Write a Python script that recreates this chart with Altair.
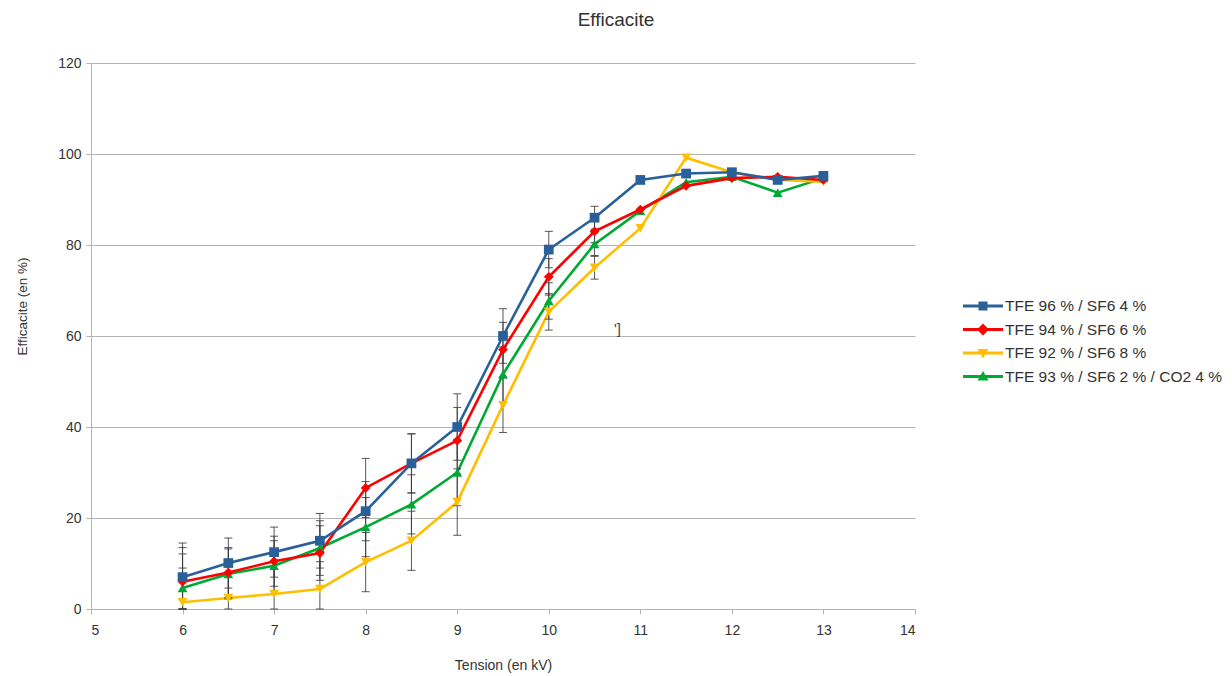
import altair as alt
import pandas as pd

# ---------------- data ----------------
tension = [6, 6.5, 7, 7.5, 8, 8.5, 9, 9.5, 10, 10.5, 11, 11.5, 12, 12.5, 13]
series_names = [
    "TFE 96 % / SF6 4 %",
    "TFE 94 % / SF6 6 %",
    "TFE 92 % / SF6 8 %",
    "TFE 93 % / SF6 2 % / CO2 4 %",
]
eff_96 = [7.0, 10.1, 12.5, 15.0, 21.5, 32.0, 40.0, 60.0, 79.0, 86.0, 94.3, 95.7, 96.0, 94.3, 95.2]
eff_94 = [6.0, 8.0, 10.5, 12.3, 26.6, 32.0, 37.0, 57.0, 73.0, 83.0, 87.8, 93.0, 94.7, 95.0, 94.3]
eff_92 = [1.5, 2.4, 3.3, 4.4, 10.3, 15.0, 23.5, 44.8, 65.3, 75.0, 83.7, 99.2, 96.0, 94.3, 93.9]
eff_93 = [4.6, 7.7, 9.5, 13.4, 18.0, 23.0, 30.0, 51.6, 67.7, 80.2, 87.5, 93.8, 95.0, 91.5, 94.7]
err = [7.5, 5.5, 5.5, 6.0, 6.5, 6.5, 7.3, 6.0, 4.0, 2.5, 0, 0, 0, 0, 0]

colors = ["#2a6099", "#ff0000", "#ffbf00", "#00a933"]
marker_shapes = ["square", "diamond", "triangle-down", "triangle-up"]
legend_paths = [
    "M-2,-0.15H2V0.15H-2Z M-0.45,-0.45H0.45V0.45H-0.45Z",
    "M-2,-0.15H2V0.15H-2Z M0,-0.6L0.6,0L0,0.6L-0.6,0Z",
    "M-2,-0.15H2V0.15H-2Z M-0.55,-0.4H0.55L0,0.55Z",
    "M-2,-0.15H2V0.15H-2Z M-0.55,0.4L0,-0.55L0.55,0.4Z",
]
draw_rank = [4, 3, 2, 1]  # blue on top

note_x = [10.75]
note_y = [61.5]
note_text = ["']"]

# ---------------- tables ----------------
values = [eff_96, eff_94, eff_92, eff_93]
rows = []
for name, vals, rank in zip(series_names, values, draw_rank):
    for t, v, e in zip(tension, vals, err):
        rows.append({"series": name, "tension": t, "eff": v, "err": e,
                     "lo": max(0.0, v - e), "hi": v + e, "rank": rank})
df = pd.DataFrame(rows).sort_values(["rank", "tension"]).reset_index(drop=True)
df_err = df[df["err"] > 0]
notes = pd.DataFrame({"x": note_x, "y": note_y, "t": note_text})

FONT = "Liberation Sans"
cscale = alt.Scale(domain=series_names, range=colors)

xenc = alt.X("tension:Q", title="Tension (en kV)",
             scale=alt.Scale(domain=[5, 14], nice=False, zero=False),
             axis=alt.Axis(values=list(range(5, 15)), format="d", grid=False,
                           tickSize=5, labelPadding=9, titleY=49,
                           titleFontSize=14, titleFontWeight="normal"))
yenc = alt.Y("eff:Q", title="Efficacite (en %)",
             scale=alt.Scale(domain=[0, 120], nice=False),
             axis=alt.Axis(values=list(range(0, 121, 20)), grid=True,
                           tickSize=5, labelPadding=5, titleX=-62, titleY=243,
                           titleFontSize=13.5, titleFontWeight="normal"))

base = alt.Chart(df)

lines = base.mark_line(strokeWidth=2.6).encode(
    x=xenc, y=yenc,
    color=alt.Color("series:N", scale=cscale, legend=None),
    detail="series:N",
    order=alt.Order("tension:Q"),
)

bars = alt.Chart(df_err).mark_rule(color="#3a3a3a", strokeWidth=1, opacity=0.85).encode(
    x="tension:Q", y="lo:Q", y2="hi:Q")
caps_lo = alt.Chart(df_err).mark_tick(color="#3a3a3a", orient="horizontal", size=8,
                                       thickness=1, opacity=0.85).encode(
    x="tension:Q", y="lo:Q")
caps_hi = alt.Chart(df_err).mark_tick(color="#3a3a3a", orient="horizontal", size=8,
                                       thickness=1, opacity=0.85).encode(
    x="tension:Q", y="hi:Q")

points = base.mark_point(filled=True, size=95, opacity=1).encode(
    x="tension:Q", y="eff:Q",
    color=alt.Color("series:N", scale=cscale, legend=None),
    shape=alt.Shape("series:N", scale=alt.Scale(domain=series_names, range=marker_shapes),
                    legend=None),
)

leg_props = dict(title=None, orient="none", legendX=882, legendY=233,
                 symbolSize=400, symbolOpacity=1, symbolStrokeWidth=0,
                 labelFont=FONT, labelFontSize=15.5, labelColor="#333333",
                 labelOffset=12, rowPadding=4.5, labelLimit=400)
legend_layer = base.mark_point(filled=True, opacity=0, size=10).encode(
    x="tension:Q", y="eff:Q",
    color=alt.Color("series:N", scale=cscale, legend=alt.Legend(**leg_props)),
    shape=alt.Shape("series:N", scale=alt.Scale(domain=series_names, range=legend_paths),
                    legend=alt.Legend(**leg_props)),
)

note = alt.Chart(notes).mark_text(font=FONT, fontSize=15, color="#444444").encode(
    x="x:Q", y="y:Q", text="t:N")

chart = alt.layer(lines, bars, caps_lo, caps_hi, points, legend_layer, note).resolve_scale(
    color="independent", shape="independent"
).properties(
    width=824, height=546,
    autosize=alt.AutoSizeParams(type="none"),
    padding={"left": 83, "top": 55, "right": 309, "bottom": 68},
    title=alt.TitleParams("Efficacite", font=FONT, fontSize=19, fontWeight="normal",
                          color="#333333", anchor="middle", dx=113, offset=26),
).configure_view(stroke=None).configure_axis(
    domainColor="#b3b3b3", tickColor="#b3b3b3", gridColor="#b3b3b3",
    labelFont=FONT, labelFontSize=14, labelColor="#333333",
    titleFont=FONT, titleColor="#333333",
)

chart.save("out.html", embed_options={"renderer": "svg", "actions": False})
